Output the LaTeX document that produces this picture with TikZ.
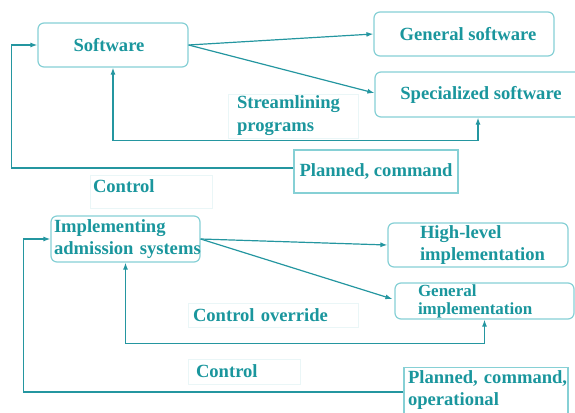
\documentclass[tikz,border=0pt]{standalone}
\usepackage{fontspec}
\setmainfont{Liberation Serif}
\usetikzlibrary{arrows.meta,calc}
\definecolor{tealtext}{HTML}{1A969D}
\definecolor{tealline}{HTML}{2496A0}
\definecolor{tealbox}{HTML}{86D0D5}
\definecolor{faintbox}{HTML}{EAF6F7}
\begin{document}
\begin{tikzpicture}[x=1pt,y=-1pt,
  txt/.style={text=tealtext,font=\bfseries\fontsize{18.6}{22}\selectfont},
  rbox/.style={txt,draw=tealbox,line width=1.2pt,rounded corners=6pt,inner sep=0pt},
  sbox/.style={txt,draw=tealbox,line width=1.2pt,inner sep=0pt},
  lbox/.style={txt,draw=faintbox,line width=0.8pt,align=left,inner ysep=0pt},
  conn/.style={draw=tealline,line width=1.2pt},
  arr/.style={conn,-{Latex[length=7pt,width=5pt]}},
  darr/.style={conn,{Latex[length=7pt,width=5pt]}-{Latex[length=7pt,width=5pt]}}]
\useasboundingbox (0,0) rectangle (575,412);
% top group
\node[rbox,minimum width=150,minimum height=44] (sw) at (113,45) {\hspace*{-8pt}Software};
\node[rbox,minimum width=180,minimum height=44] (gen) at (464,34) {\hspace*{8pt}General software};
\node[rbox,minimum width=212,minimum height=45] (spec) at (481,94.5) {Specialized software};
\node[sbox,minimum width=164,minimum height=43] (plan1) at (376,171.5) {Planned, command};
\node[lbox,text width=112,inner xsep=9pt,minimum height=44] (stream) at (293,116) {\mbox{Streamlining}\\[1pt]\mbox{programs}};
\node[lbox,text width=116,inner xsep=3pt,text height=15pt,text depth=14pt,inner ysep=2pt] (ctrl1) at (151,191.5) {\mbox{Control}};
% bottom group
\node[rbox,align=left,text width=143,inner xsep=3pt,minimum height=46] (impl) at (125.5,239) {\mbox{Implementing}\\\mbox{admission systems}};
\node[rbox,align=left,text width=116,inner xsep=32pt,minimum height=44] (hl) at (478,245) {\mbox{High-level}\\\mbox{implementation}};
\node[rbox,align=left,text width=133,inner xsep=23pt,minimum height=36,font=\bfseries\fontsize{17}{18}\selectfont] (gi) at (484.5,301) {\mbox{General}\\\mbox{implementation}};
\node[sbox,align=left,text width=156,inner xsep=4pt,minimum height=46] (plan2) at (486,390.5) {\mbox{Planned, command,}\\\mbox{operational}};
\node[lbox,text width=160,inner xsep=5pt,minimum height=24] (over) at (273,315) {\mbox{Control override}};
\node[lbox,text width=96,inner xsep=8pt,minimum height=25] (ctrl2) at (244,371.5) {\mbox{Control}};
% connectors top
\draw[arr] (sw.east) -- (gen.west);
\draw[arr] (sw.east) -- ([yshift=1.5]spec.west);
\draw[arr] ([yshift=3.5]plan1.west) -| ($(sw.west)+(-26,0)$) -- (sw.west);
\draw[darr] (sw.south) -- ++(0,73) coordinate (c1) -| ([xshift=-3]spec.south);
% connectors bottom
\draw[arr] (impl.east) -- (hl.west);
\draw[arr] (impl.east) -- ([xshift=-2,yshift=2]gi.west);
\draw[arr] ([yshift=-1.5]plan2.west) -| ($(impl.west)+(-27,0)$) -- (impl.west);
\draw[darr] (impl.south) -- ++(0,81) coordinate (c2) -| (gi.south);
\end{tikzpicture}
\end{document}
